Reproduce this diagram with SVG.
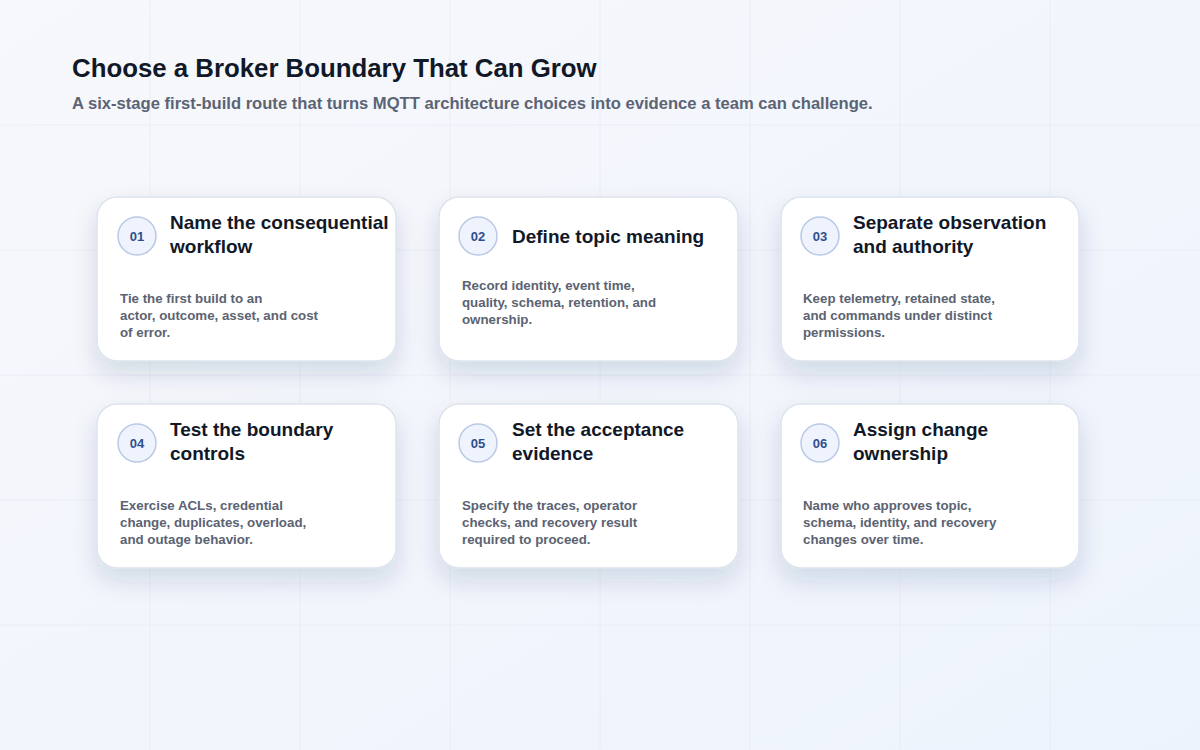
<svg xmlns="http://www.w3.org/2000/svg" width="1200" height="750" viewBox="0 0 1200 750">
  <defs>
    <linearGradient id="bg" x1="0" y1="0" x2="1" y2="1">
      <stop offset="0" stop-color="#f7f8fb"/>
      <stop offset="1" stop-color="#edf3fd"/>
    </linearGradient>
    <filter id="shadow" x="-25%" y="-25%" width="150%" height="170%">
      <feDropShadow dx="0" dy="12" stdDeviation="12" flood-color="#1f2d5c" flood-opacity="0.14"/>
    </filter>
    <style>
      .grid line { stroke: #e3e8f0; stroke-width: 1; opacity: 0.6; }
      .card { fill: #ffffff; stroke: #dde3ec; stroke-width: 1.5; filter: url(#shadow); }
      .badge { fill: #eef3fd; stroke: #b9c9e6; stroke-width: 1.5; }
      .num { font-family: "Liberation Sans", Arial, sans-serif; font-weight: 700; font-size: 13px; fill: #2f4f8e; text-anchor: middle; }
      .ttl { font-family: "Liberation Sans", Arial, sans-serif; font-weight: 700; font-size: 19px; fill: #111827; }
      .body { font-family: "Liberation Sans", Arial, sans-serif; font-weight: 700; font-size: 13.3px; fill: #5b6372; }
      .h1 { font-family: "Liberation Sans", Arial, sans-serif; font-weight: 700; font-size: 25.8px; fill: #111827; }
      .sub { font-family: "Liberation Sans", Arial, sans-serif; font-weight: 700; font-size: 16.6px; fill: #5b6474; }
    </style>
  </defs>
  <rect width="1200" height="750" fill="url(#bg)"/>
  <g class="grid">
    <line x1="150" y1="0" x2="150" y2="750"/>
    <line x1="300" y1="0" x2="300" y2="750"/>
    <line x1="450" y1="0" x2="450" y2="750"/>
    <line x1="600" y1="0" x2="600" y2="750"/>
    <line x1="750" y1="0" x2="750" y2="750"/>
    <line x1="900" y1="0" x2="900" y2="750"/>
    <line x1="1050" y1="0" x2="1050" y2="750"/>
    <line x1="0" y1="125" x2="1200" y2="125"/>
    <line x1="0" y1="250" x2="1200" y2="250"/>
    <line x1="0" y1="375" x2="1200" y2="375"/>
    <line x1="0" y1="500" x2="1200" y2="500"/>
    <line x1="0" y1="625" x2="1200" y2="625"/>
  </g>
  <text class="h1" x="72" y="77">Choose a Broker Boundary That Can Grow</text>
  <text class="sub" x="72" y="109">A six-stage first-build route that turns MQTT architecture choices into evidence a team can challenge.</text>
  <g id="connectors"></g>

  <g id="stage-01">
    <rect class="card" x="97" y="197" width="299" height="164" rx="20"/>
    <circle class="badge" cx="137" cy="236" r="19"/>
    <text class="num" x="137" y="241">01</text>
    <text class="ttl" x="170" y="229">Name the consequential</text>
    <text class="ttl" x="170" y="253">workflow</text>
    <text class="body" x="120" y="303">Tie the first build to an</text>
    <text class="body" x="120" y="320">actor, outcome, asset, and cost</text>
    <text class="body" x="120" y="337">of error.</text>
  </g>
  <g id="stage-02">
    <rect class="card" x="439" y="197" width="299" height="164" rx="20"/>
    <circle class="badge" cx="478" cy="236" r="19"/>
    <text class="num" x="478" y="241">02</text>
    <text class="ttl" x="512" y="243">Define topic meaning</text>
    <text class="body" x="462" y="290">Record identity, event time,</text>
    <text class="body" x="462" y="307">quality, schema, retention, and</text>
    <text class="body" x="462" y="324">ownership.</text>
  </g>
  <g id="stage-03">
    <rect class="card" x="781" y="197" width="298" height="164" rx="20"/>
    <circle class="badge" cx="820" cy="236" r="19"/>
    <text class="num" x="820" y="241">03</text>
    <text class="ttl" x="853" y="229">Separate observation</text>
    <text class="ttl" x="853" y="253">and authority</text>
    <text class="body" x="803" y="303">Keep telemetry, retained state,</text>
    <text class="body" x="803" y="320">and commands under distinct</text>
    <text class="body" x="803" y="337">permissions.</text>
  </g>
  <g id="stage-04">
    <rect class="card" x="97" y="404" width="299" height="164" rx="20"/>
    <circle class="badge" cx="137" cy="443" r="19"/>
    <text class="num" x="137" y="448">04</text>
    <text class="ttl" x="170" y="436">Test the boundary</text>
    <text class="ttl" x="170" y="460">controls</text>
    <text class="body" x="120" y="510">Exercise ACLs, credential</text>
    <text class="body" x="120" y="527">change, duplicates, overload,</text>
    <text class="body" x="120" y="544">and outage behavior.</text>
  </g>
  <g id="stage-05">
    <rect class="card" x="439" y="404" width="299" height="164" rx="20"/>
    <circle class="badge" cx="478" cy="443" r="19"/>
    <text class="num" x="478" y="448">05</text>
    <text class="ttl" x="512" y="436">Set the acceptance</text>
    <text class="ttl" x="512" y="460">evidence</text>
    <text class="body" x="462" y="510">Specify the traces, operator</text>
    <text class="body" x="462" y="527">checks, and recovery result</text>
    <text class="body" x="462" y="544">required to proceed.</text>
  </g>
  <g id="stage-06">
    <rect class="card" x="781" y="404" width="298" height="164" rx="20"/>
    <circle class="badge" cx="820" cy="443" r="19"/>
    <text class="num" x="820" y="448">06</text>
    <text class="ttl" x="853" y="436">Assign change</text>
    <text class="ttl" x="853" y="460">ownership</text>
    <text class="body" x="803" y="510">Name who approves topic,</text>
    <text class="body" x="803" y="527">schema, identity, and recovery</text>
    <text class="body" x="803" y="544">changes over time.</text>
  </g>
</svg>
